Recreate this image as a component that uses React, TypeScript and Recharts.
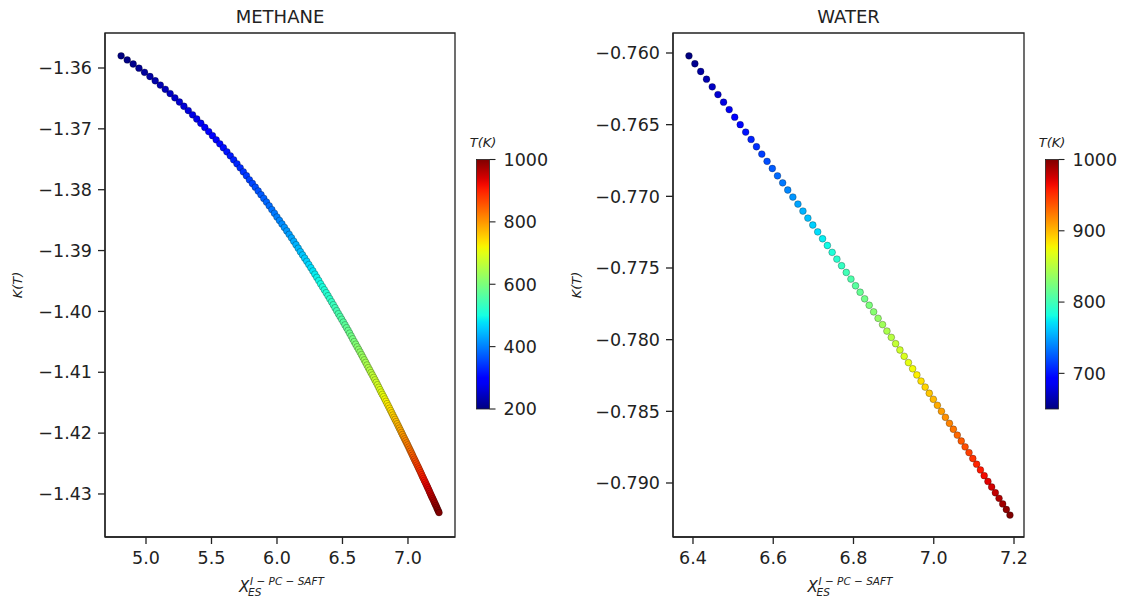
import { ScatterChart, Scatter, XAxis, YAxis, ReferenceArea } from 'recharts';

// [T (K), X_ES, K(T)]
const methanePoints: number[][] = [
  [200, 4.8100, -1.35800], [205, 4.8567, -1.35867], [210, 4.9021, -1.35934], [215, 4.9461, -1.36003],
  [220, 4.9886, -1.36071], [225, 5.0300, -1.36140], [230, 5.0702, -1.36210], [235, 5.1092, -1.36280],
  [240, 5.1474, -1.36350], [245, 5.1843, -1.36420], [250, 5.2203, -1.36490], [255, 5.2552, -1.36559],
  [260, 5.2894, -1.36629], [265, 5.3228, -1.36699], [270, 5.3555, -1.36769], [275, 5.3874, -1.36838],
  [280, 5.4186, -1.36908], [285, 5.4490, -1.36977], [290, 5.4787, -1.37045], [295, 5.5076, -1.37113],
  [300, 5.5358, -1.37180], [305, 5.5635, -1.37246], [310, 5.5907, -1.37311], [315, 5.6174, -1.37377],
  [320, 5.6436, -1.37443], [325, 5.6692, -1.37509], [330, 5.6944, -1.37574], [335, 5.7190, -1.37640],
  [340, 5.7431, -1.37706], [345, 5.7667, -1.37771], [350, 5.7894, -1.37837], [355, 5.8121, -1.37898],
  [360, 5.8344, -1.37959], [365, 5.8564, -1.38021], [370, 5.8780, -1.38082], [375, 5.8992, -1.38143],
  [380, 5.9201, -1.38204], [385, 5.9406, -1.38265], [390, 5.9607, -1.38327], [395, 5.9805, -1.38388],
  [400, 5.9998, -1.38449], [405, 6.0190, -1.38506], [410, 6.0379, -1.38563], [415, 6.0565, -1.38620],
  [420, 6.0749, -1.38677], [425, 6.0929, -1.38734], [430, 6.1107, -1.38791], [435, 6.1281, -1.38848],
  [440, 6.1453, -1.38905], [445, 6.1622, -1.38962], [450, 6.1786, -1.39019], [455, 6.1951, -1.39072],
  [460, 6.2114, -1.39125], [465, 6.2274, -1.39177], [470, 6.2432, -1.39230], [475, 6.2588, -1.39283],
  [480, 6.2741, -1.39336], [485, 6.2892, -1.39389], [490, 6.3041, -1.39441], [495, 6.3187, -1.39494],
  [500, 6.3331, -1.39547], [505, 6.3475, -1.39596], [510, 6.3617, -1.39645], [515, 6.3757, -1.39694],
  [520, 6.3896, -1.39743], [525, 6.4032, -1.39793], [530, 6.4167, -1.39842], [535, 6.4299, -1.39891],
  [540, 6.4430, -1.39940], [545, 6.4559, -1.39989], [550, 6.4688, -1.40038], [555, 6.4816, -1.40084],
  [560, 6.4942, -1.40130], [565, 6.5067, -1.40176], [570, 6.5190, -1.40222], [575, 6.5311, -1.40268],
  [580, 6.5431, -1.40313], [585, 6.5549, -1.40359], [590, 6.5665, -1.40405], [595, 6.5780, -1.40451],
  [600, 6.5894, -1.40497], [605, 6.6008, -1.40540], [610, 6.6121, -1.40583], [615, 6.6232, -1.40625],
  [620, 6.6342, -1.40668], [625, 6.6451, -1.40711], [630, 6.6558, -1.40754], [635, 6.6664, -1.40797],
  [640, 6.6769, -1.40839], [645, 6.6872, -1.40882], [650, 6.6975, -1.40925], [655, 6.7078, -1.40965],
  [660, 6.7180, -1.41006], [665, 6.7281, -1.41046], [670, 6.7380, -1.41086], [675, 6.7479, -1.41126],
  [680, 6.7576, -1.41166], [685, 6.7673, -1.41206], [690, 6.7768, -1.41247], [695, 6.7862, -1.41287],
  [700, 6.7954, -1.41327], [705, 6.8047, -1.41365], [710, 6.8139, -1.41402], [715, 6.8230, -1.41440],
  [720, 6.8321, -1.41478], [725, 6.8410, -1.41516], [730, 6.8499, -1.41553], [735, 6.8586, -1.41591],
  [740, 6.8673, -1.41629], [745, 6.8759, -1.41666], [750, 6.8845, -1.41704], [755, 6.8930, -1.41740],
  [760, 6.9014, -1.41775], [765, 6.9098, -1.41811], [770, 6.9180, -1.41847], [775, 6.9262, -1.41883],
  [780, 6.9343, -1.41918], [785, 6.9424, -1.41954], [790, 6.9503, -1.41990], [795, 6.9582, -1.42025],
  [800, 6.9663, -1.42061], [805, 6.9742, -1.42095], [810, 6.9820, -1.42128], [815, 6.9898, -1.42162],
  [820, 6.9974, -1.42195], [825, 7.0050, -1.42229], [830, 7.0125, -1.42263], [835, 7.0200, -1.42296],
  [840, 7.0273, -1.42330], [845, 7.0346, -1.42363], [850, 7.0416, -1.42397], [855, 7.0489, -1.42429],
  [860, 7.0561, -1.42461], [865, 7.0633, -1.42493], [870, 7.0704, -1.42525], [875, 7.0774, -1.42557],
  [880, 7.0844, -1.42588], [885, 7.0913, -1.42620], [890, 7.0981, -1.42652], [895, 7.1049, -1.42684],
  [900, 7.1114, -1.42716], [905, 7.1182, -1.42746], [910, 7.1249, -1.42777], [915, 7.1316, -1.42807],
  [920, 7.1382, -1.42837], [925, 7.1447, -1.42868], [930, 7.1512, -1.42898], [935, 7.1576, -1.42928],
  [940, 7.1639, -1.42958], [945, 7.1702, -1.42989], [950, 7.1764, -1.43019], [955, 7.1827, -1.43048],
  [960, 7.1889, -1.43076], [965, 7.1951, -1.43105], [970, 7.2013, -1.43134], [975, 7.2073, -1.43163],
  [980, 7.2134, -1.43191], [985, 7.2193, -1.43220], [990, 7.2252, -1.43249], [995, 7.2311, -1.43277],
  [1000, 7.2370, -1.43306],
];

const waterPoints: number[][] = [
  [650, 6.3900, -0.76020], [655, 6.4047, -0.76075], [660, 6.4192, -0.76129], [665, 6.4337, -0.76183],
  [670, 6.4480, -0.76236], [675, 6.4622, -0.76290], [680, 6.4762, -0.76343], [685, 6.4902, -0.76395],
  [690, 6.5040, -0.76448], [695, 6.5177, -0.76500], [700, 6.5313, -0.76552], [705, 6.5448, -0.76603],
  [710, 6.5582, -0.76654], [715, 6.5715, -0.76705], [720, 6.5846, -0.76756], [725, 6.5977, -0.76806],
  [730, 6.6106, -0.76857], [735, 6.6235, -0.76906], [740, 6.6362, -0.76956], [745, 6.6489, -0.77005],
  [750, 6.6615, -0.77054], [755, 6.6740, -0.77103], [760, 6.6863, -0.77152], [765, 6.6986, -0.77200],
  [770, 6.7108, -0.77248], [775, 6.7229, -0.77296], [780, 6.7349, -0.77343], [785, 6.7468, -0.77391],
  [790, 6.7586, -0.77438], [795, 6.7703, -0.77484], [800, 6.7820, -0.77531], [805, 6.7936, -0.77577],
  [810, 6.8051, -0.77624], [815, 6.8165, -0.77669], [820, 6.8278, -0.77715], [825, 6.8391, -0.77760],
  [830, 6.8502, -0.77806], [835, 6.8613, -0.77851], [840, 6.8724, -0.77895], [845, 6.8833, -0.77940],
  [850, 6.8942, -0.77984], [855, 6.9050, -0.78028], [860, 6.9157, -0.78072], [865, 6.9263, -0.78116],
  [870, 6.9369, -0.78160], [875, 6.9474, -0.78203], [880, 6.9579, -0.78246], [885, 6.9683, -0.78289],
  [890, 6.9786, -0.78331], [895, 6.9888, -0.78374], [900, 6.9990, -0.78416], [905, 7.0091, -0.78458],
  [910, 7.0192, -0.78500], [915, 7.0291, -0.78542], [920, 7.0391, -0.78584], [925, 7.0489, -0.78625],
  [930, 7.0587, -0.78666], [935, 7.0685, -0.78707], [940, 7.0781, -0.78748], [945, 7.0878, -0.78788],
  [950, 7.0973, -0.78829], [955, 7.1068, -0.78869], [960, 7.1163, -0.78909], [965, 7.1257, -0.78949],
  [970, 7.1350, -0.78989], [975, 7.1443, -0.79028], [980, 7.1535, -0.79068], [985, 7.1627, -0.79107],
  [990, 7.1718, -0.79146], [995, 7.1809, -0.79185], [1000, 7.1899, -0.79224],
];

const methaneXTicks = [5.0, 5.5, 6.0, 6.5, 7.0];
const methaneYTicks = [-1.43, -1.42, -1.41, -1.40, -1.39, -1.38, -1.37, -1.36];
const waterXTicks = [6.4, 6.6, 6.8, 7.0, 7.2];
const waterYTicks = [-0.790, -0.785, -0.780, -0.775, -0.770, -0.765, -0.760];
const methaneBarTicks = [200, 400, 600, 800, 1000];
const waterBarTicks = [700, 800, 900, 1000];

const FONT = '"DejaVu Sans", sans-serif';
const INK = '#222';
const TICK_FONT = 17.5;

// matplotlib "jet"
const JET_R = [[0, 0], [0.35, 0], [0.66, 1], [0.89, 1], [1, 0.5]];
const JET_G = [[0, 0], [0.125, 0], [0.375, 1], [0.64, 1], [0.91, 0], [1, 0]];
const JET_B = [[0, 0.5], [0.11, 1], [0.34, 1], [0.65, 0], [1, 0]];

function seg(pts: number[][], t: number) {
  for (let i = 1; i < pts.length; i++) {
    if (t <= pts[i][0]) {
      const [x0, y0] = pts[i - 1];
      const [x1, y1] = pts[i];
      return y0 + ((t - x0) / (x1 - x0)) * (y1 - y0);
    }
  }
  return pts[pts.length - 1][1];
}

function jet(t: number) {
  const c = Math.max(0, Math.min(1, t));
  const r = Math.round(seg(JET_R, c) * 255);
  const g = Math.round(seg(JET_G, c) * 255);
  const b = Math.round(seg(JET_B, c) * 255);
  return `rgb(${r},${g},${b})`;
}

const minus = (s: string) => s.replace('-', '\u2212');

function Panel({
  points, xDomain, yDomain, xTicks, yTicks, yDigits, vmin, vmax, width, yAxisWidth, rightMargin,
}: {
  points: number[][]; xDomain: number[]; yDomain: number[]; xTicks: number[]; yTicks: number[];
  yDigits: number; vmin: number; vmax: number; width: number; yAxisWidth: number; rightMargin: number;
}) {
  const data = points.map(([t, x, k]) => ({ t, x, k }));
  const tickStyle = { fontSize: TICK_FONT, fill: INK, fontFamily: FONT };
  const line = { stroke: INK, strokeWidth: 1.3 };
  return (
    <ScatterChart width={width} height={599} margin={{ top: 33, right: rightMargin, bottom: 0, left: 0 }}>
      <XAxis
        type="number" dataKey="x" domain={xDomain} allowDataOverflow ticks={xTicks} interval={0}
        tickFormatter={(v: number) => v.toFixed(1)} height={62} tickSize={7} tickMargin={8}
        tick={tickStyle} axisLine={line} tickLine={line}
      />
      <YAxis
        type="number" dataKey="k" domain={yDomain} allowDataOverflow ticks={yTicks} interval={0}
        tickFormatter={(v: number) => minus(v.toFixed(yDigits))} width={yAxisWidth} tickSize={7} tickMargin={6}
        tick={tickStyle} axisLine={line} tickLine={line}
      />
      {/* full box frame like matplotlib spines */}
      <ReferenceArea
        x1={xDomain[0]} x2={xDomain[1]} y1={yDomain[0]} y2={yDomain[1]}
        ifOverflow="visible" fill="none" fillOpacity={0} stroke={INK} strokeWidth={1.3}
      />
      <Scatter
        data={data}
        isAnimationActive={false}
        shape={(p: any) => (
          <circle
            cx={p.cx} cy={p.cy} r={3.4}
            fill={jet(((p.payload?.t ?? p.t) - vmin) / (vmax - vmin))}
            stroke="#000" strokeOpacity={0.45} strokeWidth={0.6}
          />
        )}
      />
    </ScatterChart>
  );
}

function Colorbar({ id, x, vmin, vmax, ticks }: { id: string; x: number; vmin: number; vmax: number; ticks: number[] }) {
  const top = 159.5;
  const bottom = 409;
  const w = 13;
  const yOf = (v: number) => bottom - ((v - vmin) / (vmax - vmin)) * (bottom - top);
  const stops = Array.from({ length: 41 }, (_, i) => i / 40);
  return (
    <g>
      <defs>
        <linearGradient id={id} x1="0" y1="1" x2="0" y2="0">
          {stops.map((s) => <stop key={s} offset={s} stopColor={jet(s)} />)}
        </linearGradient>
      </defs>
      <rect x={x} y={top} width={w} height={bottom - top} fill={`url(#${id})`} stroke={INK} strokeWidth={0.8} />
      {ticks.map((v) => (
        <g key={v}>
          <line x1={x + w} x2={x + w + 6} y1={yOf(v)} y2={yOf(v)} stroke={INK} strokeWidth={1.1} />
          <text x={x + w + 14} y={yOf(v)} dy="0.36em" fontSize={TICK_FONT} fill={INK} fontFamily={FONT}>{v}</text>
        </g>
      ))}
      <text x={x + w / 2} y={147} textAnchor="middle" fontSize={13} fontStyle="italic" fill={INK} fontFamily={FONT}>T(K)</text>
    </g>
  );
}

function XLabel({ cx }: { cx: number }) {
  return (
    <g fontFamily={FONT} fontStyle="italic" fill={INK}>
      <text x={cx - 41} y={592} fontSize={15}>X</text>
      <text x={cx - 30} y={585} fontSize={10.5}>I − PC − SAFT</text>
      <text x={cx - 32} y={596} fontSize={10.5}>ES</text>
    </g>
  );
}

export default function App() {
  return (
    <div style={{ position: 'absolute', left: 0, top: 0, width: 1126, height: 599, background: '#fff', fontFamily: FONT }}>
      <div style={{ position: 'absolute', left: 0, top: 0 }}>
        <Panel
          points={methanePoints} xDomain={[4.687, 7.359]} yDomain={[-1.43707, -1.35425]}
          xTicks={methaneXTicks} yTicks={methaneYTicks} yDigits={2} vmin={200} vmax={1000}
          width={470} yAxisWidth={105} rightMargin={15}
        />
      </div>
      <div style={{ position: 'absolute', left: 560, top: 0 }}>
        <Panel
          points={waterPoints} xDomain={[6.3502, 7.2249]} yDomain={[-0.793768, -0.758605]}
          xTicks={waterXTicks} yTicks={waterYTicks} yDigits={3} vmin={650} vmax={1000}
          width={566} yAxisWidth={113} rightMargin={102}
        />
      </div>
      <svg width={1126} height={599} style={{ position: 'absolute', left: 0, top: 0, pointerEvents: 'none' }}>
        <text x={280} y={22.5} textAnchor="middle" fontSize={18} fill={INK} fontFamily={FONT}>METHANE</text>
        <text x={848.5} y={22.5} textAnchor="middle" fontSize={18} fill={INK} fontFamily={FONT}>WATER</text>
        <text transform="translate(22,285) rotate(-90)" textAnchor="middle" fontSize={13} fontStyle="italic" fill={INK} fontFamily={FONT}>K(T)</text>
        <text transform="translate(581,285) rotate(-90)" textAnchor="middle" fontSize={13} fontStyle="italic" fill={INK} fontFamily={FONT}>K(T)</text>
        <XLabel cx={280} />
        <XLabel cx={848.5} />
        <Colorbar id="cbMethane" x={476.5} vmin={200} vmax={1000} ticks={methaneBarTicks} />
        <Colorbar id="cbWater" x={1045.5} vmin={650} vmax={1000} ticks={waterBarTicks} />
      </svg>
    </div>
  );
}
